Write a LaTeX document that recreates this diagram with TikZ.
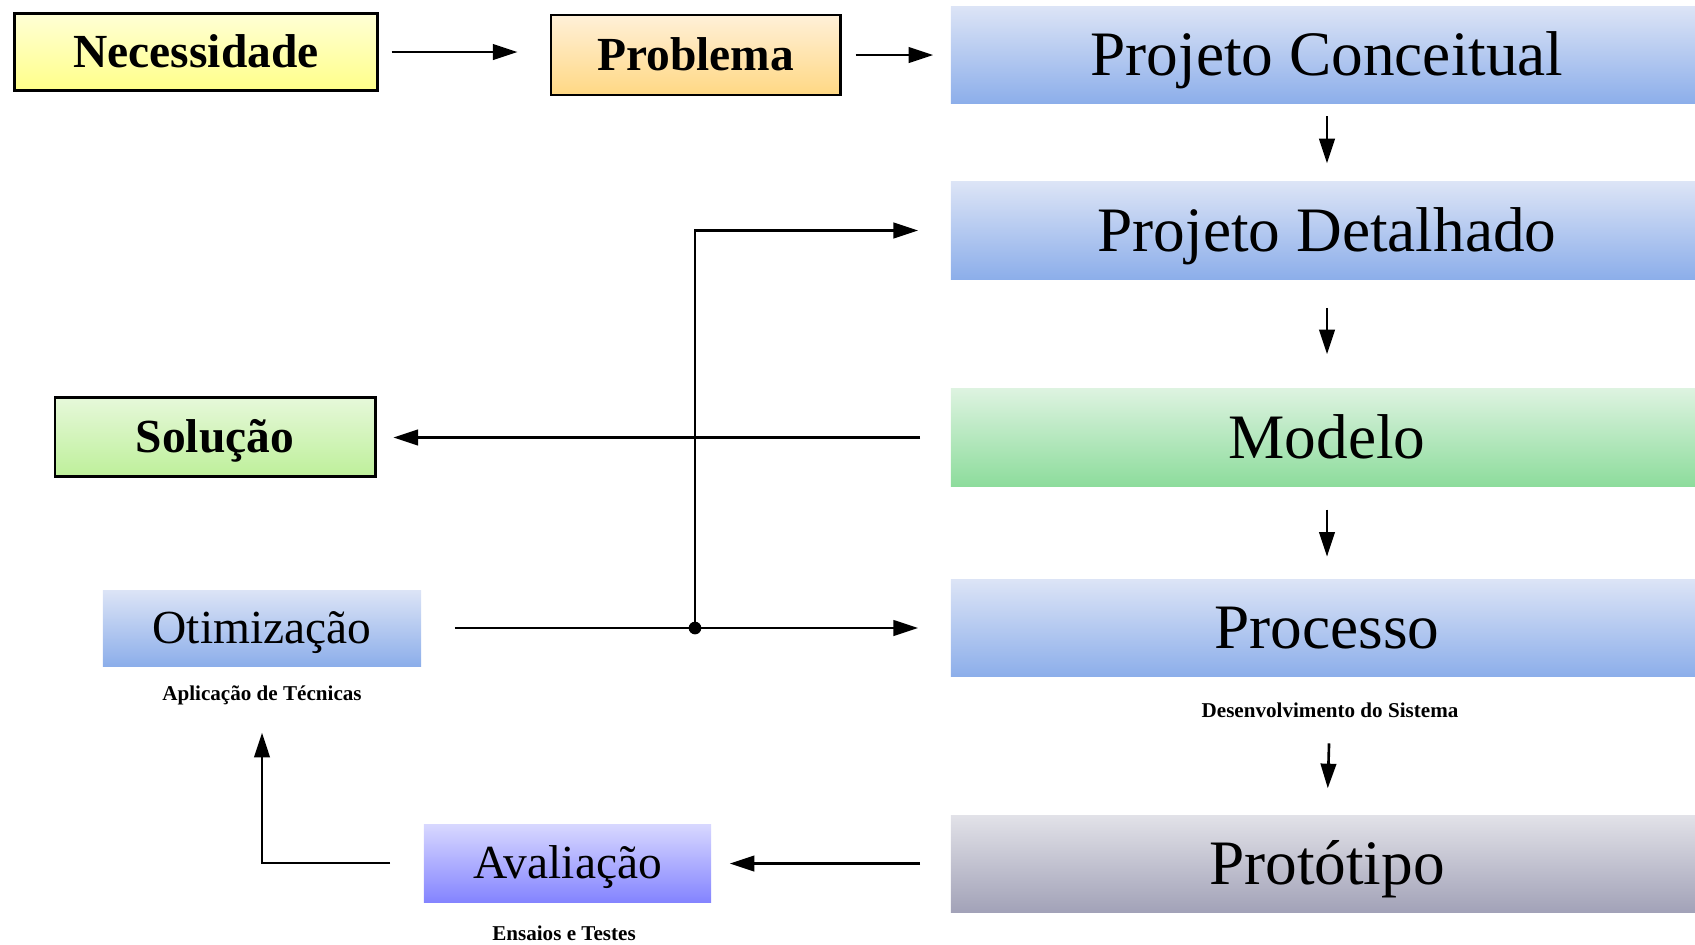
\documentclass[tikz,border=0pt]{standalone}
\usepackage{fontspec}
\setmainfont{Liberation Serif}
\usetikzlibrary{arrows.meta}
\definecolor{necA}{HTML}{FFFFD6}
\definecolor{necB}{HTML}{FFFF88}
\definecolor{probA}{HTML}{FFF0D8}
\definecolor{probB}{HTML}{FFD884}
\definecolor{azulA}{HTML}{DCE4F6}
\definecolor{azulB}{HTML}{8CAEEA}
\definecolor{verdeA}{HTML}{DDF3E0}
\definecolor{verdeB}{HTML}{8DDC9C}
\definecolor{solA}{HTML}{E6F8DA}
\definecolor{solB}{HTML}{BEF09A}
\definecolor{cinzaA}{HTML}{E2E2E8}
\definecolor{cinzaB}{HTML}{A2A2B8}
\definecolor{avalA}{HTML}{D8D8FF}
\definecolor{avalB}{HTML}{8484FF}
\begin{document}
\begin{tikzpicture}[x=0.01cm,y=-0.01cm,>={Triangle[length=7pt,width=4.4pt]},
  stage/.style={minimum width=7.52cm,minimum height=0.97cm,inner sep=0pt,
    font=\fontsize{18}{20}\selectfont,text height=11.9pt,text depth=0pt},
  tag/.style={draw,line width=0.8pt,inner sep=0pt,
    font=\bfseries\fontsize{13.5}{15}\selectfont,text height=8.9pt,text depth=0pt},
  soft/.style={inner sep=0pt,font=\fontsize{13.5}{15}\selectfont,text height=8.9pt,text depth=0pt},
  note/.style={inner sep=1pt,font=\bfseries\fontsize{6}{7}\selectfont},
  link/.style={line width=0.75pt},
  arr/.style={link,->}]
  \useasboundingbox (0,0) rectangle (1695,944);
  % topo
  \node[tag,top color=necA,bottom color=necB,minimum width=3.62cm,minimum height=0.77cm] (nec) at (196,52) {Necessidade};
  \node[tag,top color=probA,bottom color=probB,minimum width=2.89cm,minimum height=0.8cm] (prob) at (695.5,55) {Problema};
  % coluna das etapas
  \node[stage,top color=azulA,bottom color=azulB] (conc) at (1327,55) {Projeto Conceitual};
  \node[stage,top color=azulA,bottom color=azulB] (det) at (1327,230.5) {Projeto Detalhado};
  \node[stage,top color=verdeA,bottom color=verdeB] (mod) at (1327,437.5) {Modelo};
  \node[stage,top color=azulA,bottom color=azulB] (proc) at (1327,628) {Processo};
  \node[note] (desen) at (1330,710) {Desenvolvimento do Sistema};
  \node[stage,top color=cinzaA,bottom color=cinzaB] (prot) at (1327,863.5) {Protótipo};
  % lado esquerdo
  \node[tag,top color=solA,bottom color=solB,minimum width=3.2cm,minimum height=0.79cm] (sol) at (215,437) {Solução};
  \node[soft,top color=azulA,bottom color=azulB,minimum width=3.18cm,minimum height=0.76cm] (otim) at (262,628) {Otimização};
  \node[note] (aplic) at (262,695) {Aplicação de Técnicas};
  \node[soft,top color=avalA,bottom color=avalB,minimum width=2.87cm,minimum height=0.78cm] (aval) at (567.5,863) {Avaliação};
  \node[note] (ensaio) at (564,933) {Ensaios e Testes};
  \coordinate (junta) at (695,628);
  % ligacoes
  \draw[arr,shorten <=3.7pt,shorten >=9.1pt] (nec.east) -- (nec.east -| prob.west);
  \draw[arr,shorten <=4pt,shorten >=4.8pt] (prob.east) -- (prob.east -| conc.west);
  \draw[arr,shorten <=3.4pt,shorten >=5.1pt] (conc.south) -- (det.north);
  \draw[arr,shorten <=8pt,shorten >=9.7pt] (det.south) -- (mod.north);
  \draw[arr,shorten <=6.5pt,shorten >=6.3pt] (mod.south) -- (proc.north);
  \draw[arr,shorten <=6.2pt,shorten >=7.4pt] (desen) -- (prot.north);
  \draw[arr,shorten <=8.5pt,shorten >=4.8pt] (mod.west) -- (mod.west -| sol.east);
  \draw[link,shorten <=9.4pt] (otim.east) -- (junta);
  \draw[arr,shorten >=9.1pt] (junta) -- (junta -| proc.west);
  \draw[arr,shorten >=9.1pt] (junta) |- (det.west);
  \fill (junta) circle (1.8pt);
  \draw[arr,shorten <=8.5pt,shorten >=5.1pt] (prot.west) -- (prot.west -| aval.east);
  \draw[arr,shorten <=9.4pt,shorten >=6.8pt] (aval.west) -| (aplic.south);
\end{tikzpicture}
\end{document}
